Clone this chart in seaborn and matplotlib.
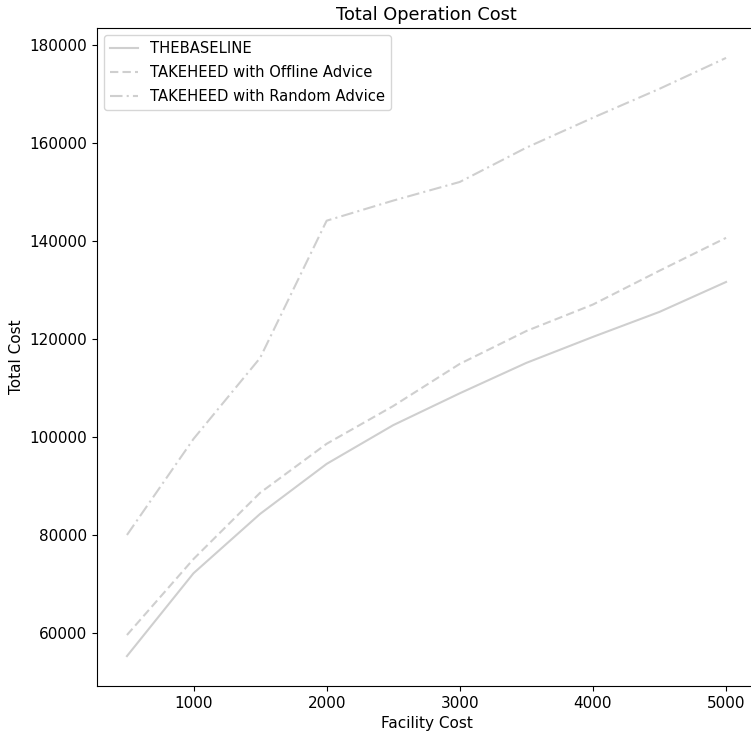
import matplotlib
matplotlib.use("Agg")
import matplotlib.pyplot as plt
import seaborn as sns
import pandas as pd

facility_cost = [500, 1000, 1500, 2000, 2500, 3000, 3500, 4000, 4500, 5000]
baseline = [55300, 72200, 84300, 94500, 102400, 108900, 115100, 120400, 125500, 131600]
offline_advice = [59600, 75100, 88600, 98600, 106300, 114900, 121600, 127000, 133900, 140600]
random_advice = [80000, 99600, 116100, 144100, 148200, 152000, 159000, 165100, 171000, 177300]
series_names = ["THEBASELINE", "TAKEHEED with Offline Advice", "TAKEHEED with Random Advice"]

rows = []
for name, vals in zip(series_names, [baseline, offline_advice, random_advice]):
    for x, y in zip(facility_cost, vals):
        rows.append({"Facility Cost": x, "Total Cost": y, "Algorithm": name})
df = pd.DataFrame(rows)

plt.rcParams.update({"font.size": 11, "xtick.labelsize": 11, "ytick.labelsize": 11,
                     "axes.labelsize": 11, "legend.fontsize": 10.6})

fig = plt.figure(figsize=(7.51, 7.36), dpi=100)
ax = fig.add_axes([97 / 751, 1 - 686 / 736, (756 - 97) / 751, (686 - 28) / 736])

dashes = {series_names[0]: "", series_names[1]: (4, 2), series_names[2]: (6, 2, 1, 2)}
sns.lineplot(data=df, x="Facility Cost", y="Total Cost", style="Algorithm",
             style_order=series_names, dashes=dashes, color="#cfcfcf",
             linewidth=1.5, ax=ax)

ax.set_title("Total Operation Cost", fontsize=12.8)
ax.legend(loc="upper left", handlelength=1.9, labelspacing=0.6)
fig.savefig("out.png", dpi=100)
